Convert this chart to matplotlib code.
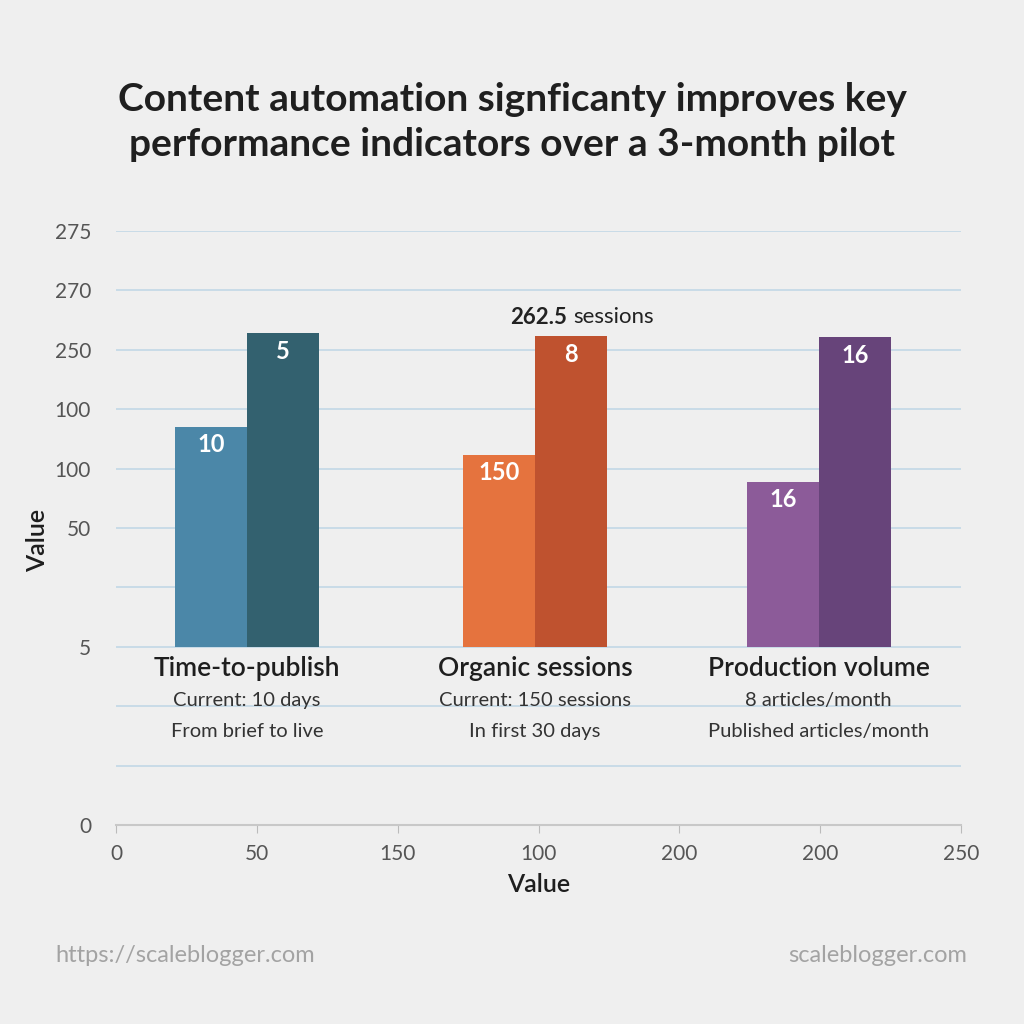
import matplotlib.pyplot as plt

plt.rcParams['font.family'] = ['Lato', 'DejaVu Sans']

# data (bar heights in gridline units, bars start at the "5" line)
categories = ["Time-to-publish", "Organic sessions", "Production volume"]
sub_line1 = ["Current: 10 days", "Current: 150 sessions", "8 articles/month"]
sub_line2 = ["From brief to live", "In first 30 days", "Published articles/month"]
group_x = [0.93, 2.975, 4.99]
base = 3.0
before_top = [6.70, 6.23, 5.77]
after_top = [8.28, 8.23, 8.22]
before_labels = ["10", "150", "16"]
after_labels = ["5", "8", "16"]
before_colors = ["#4b87a8", "#e5733e", "#8c5b99"]
after_colors = ["#33616f", "#bf522f", "#67447a"]

ytick_labels = ["0", "", "", "5", "", "50", "100", "100", "250", "270", "275"]
xtick_labels = ["0", "50", "150", "100", "200", "200", "250"]

bg = "#efefef"
fig = plt.figure(figsize=(10.24, 10.24), dpi=100, facecolor=bg)
ax = fig.add_axes([0.1133, 0.1943, 0.8252, 0.5801], facecolor=bg)

w = 0.51
for i in range(3):
    ax.bar(group_x[i] - w / 2, before_top[i] - base, w, bottom=base,
           color=before_colors[i], zorder=3)
    ax.bar(group_x[i] + w / 2, after_top[i] - base, w, bottom=base,
           color=after_colors[i], zorder=3)
    ax.text(group_x[i] - w / 2, before_top[i] - 0.29, before_labels[i], color="white",
            fontsize=17, fontweight="bold", ha="center", va="center", zorder=4)
    ax.text(group_x[i] + w / 2, after_top[i] - 0.31, after_labels[i], color="white",
            fontsize=17, fontweight="bold", ha="center", va="center", zorder=4)
    ax.text(group_x[i], 2.64, categories[i], fontsize=19, fontweight="semibold",
            color="#1e1e1e", ha="center", va="center", zorder=4)
    ax.text(group_x[i], 2.09, sub_line1[i], fontsize=14.5, color="#333333",
            ha="center", va="center", zorder=4)
    ax.text(group_x[i], 1.58, sub_line2[i], fontsize=14.5, color="#333333",
            ha="center", va="center", zorder=4)

# callout above the organic sessions bar
ax.text(3.205, 8.55, "262.5", fontsize=16, fontweight="bold", color="#222222",
        ha="right", va="center")
ax.text(3.25, 8.55, "sessions", fontsize=16, color="#222222", ha="left", va="center")

ax.set_xlim(0, 6)
ax.set_ylim(0, 10)
ax.set_yticks(range(11))
ax.set_yticklabels(ytick_labels)
ax.set_xticks(range(7))
ax.set_xticklabels(xtick_labels)
ax.tick_params(axis="y", length=0, pad=18, labelsize=15, labelcolor="#555555")
ax.tick_params(axis="x", length=6, color="#bbbbbb", pad=8, labelsize=15,
               labelcolor="#555555")
ax.grid(axis="y", color="#c5d9e7", linewidth=1.3, zorder=0)
ax.set_axisbelow(True)
for s in ["top", "right", "left"]:
    ax.spines[s].set_visible(False)
ax.spines["bottom"].set_color("#c8c8c8")
ax.spines["bottom"].set_linewidth(1.5)

ax.set_xlabel("Value", fontsize=18, fontweight="semibold", color="#1e1e1e", labelpad=6)
fig.text(38 / 1024, 1 - 540 / 1024, "Value", fontsize=18, fontweight="semibold",
         color="#1e1e1e", rotation=90, ha="center", va="center")

fig.text(0.5, 1 - 122 / 1024,
         "Content automation signficanty improves key\nperformance indicators over a 3-month pilot",
         fontsize=28, fontweight="bold", color="#1f1f1f", ha="center", va="center",
         linespacing=1.35)

fig.text(55 / 1024, 1 - 956 / 1024, "https://scaleblogger.com", fontsize=17,
         color="#a3a3a3", ha="left", va="center")
fig.text(967 / 1024, 1 - 956 / 1024, "scaleblogger.com", fontsize=17,
         color="#a3a3a3", ha="right", va="center")

fig.savefig("out.png", dpi=100, facecolor=bg)
